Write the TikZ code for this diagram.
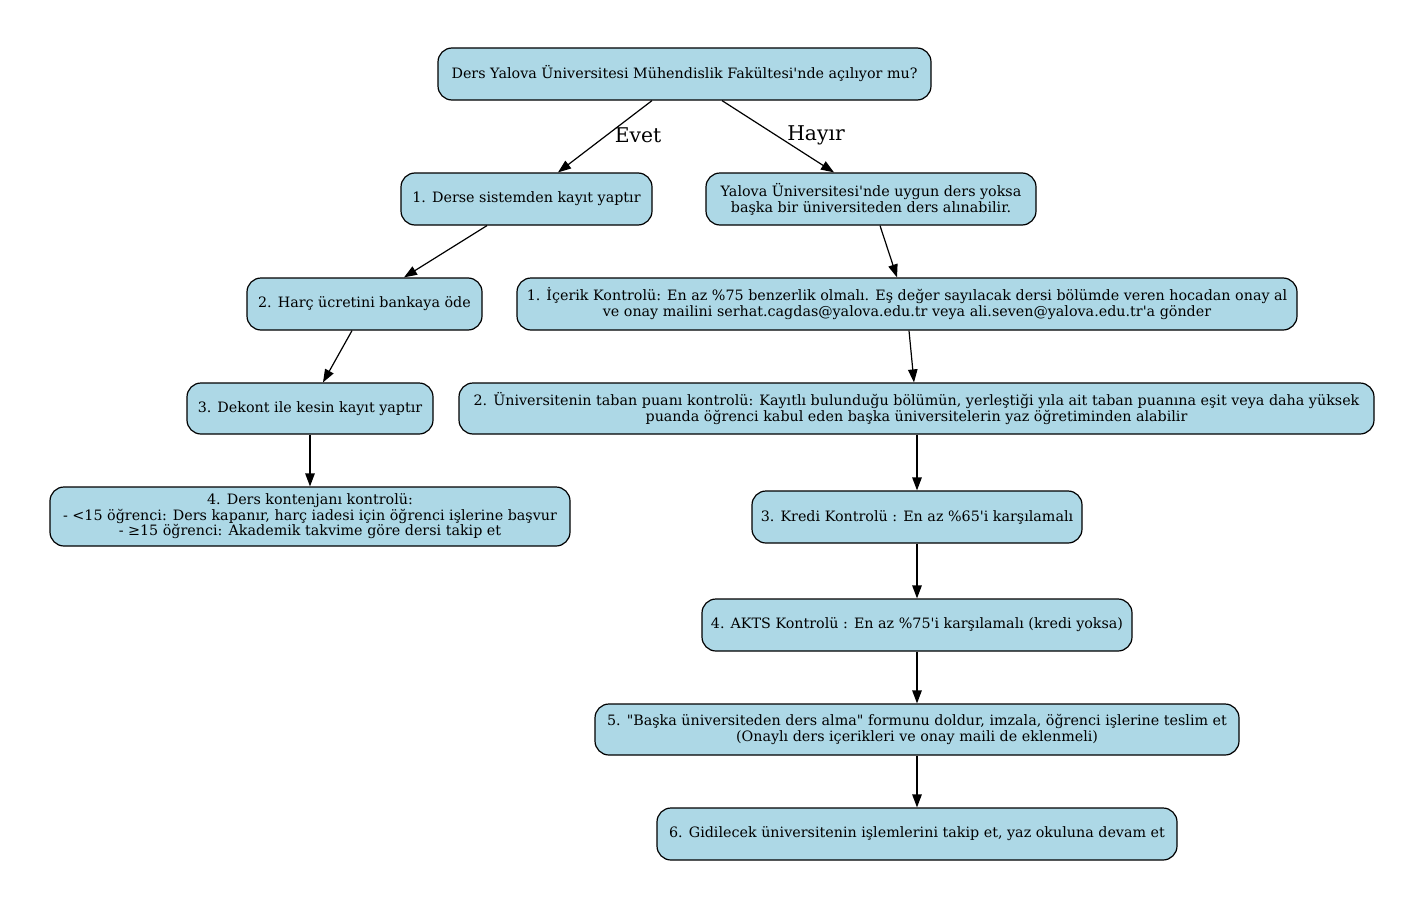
\documentclass[tikz,border=0pt]{standalone}
\usepackage{fontspec}
\setmainfont{DejaVu Serif}[Ligatures=TeXOff]
\usetikzlibrary{arrows.meta}
\definecolor{gvblue}{RGB}{173,216,230}
\begin{document}
\begin{tikzpicture}[x=1pt,y=-1pt,
  box/.style={draw=black,line width=1.2pt,fill=gvblue,rounded corners=14pt,
    inner sep=0pt,minimum height=52pt,align=center,
    font=\fontsize{14.3}{16}\selectfont},
  conn/.style={draw=black,line width=1.2pt,-{Triangle[length=13pt,width=9.5pt]}},
  elab/.style={font=\fontsize{20.3}{22}\selectfont,inner sep=0pt}]
\useasboundingbox (0,0) rectangle (1405,899);
\node[box,minimum width=493pt] (top) at (684.5,74) {Ders Yalova Üniversitesi Mühendislik Fakültesi'nde açılıyor mu?};
\node[box,minimum width=251pt] (n1) at (526.5,199) {1. Derse sistemden kayıt yaptır};
\node[box,minimum width=330pt] (nr) at (871,199) {Yalova Üniversitesi'nde uygun ders yoksa\\başka bir üniversiteden ders alınabilir.};
\node[box,minimum width=235pt] (n2) at (364.5,304) {2. Harç ücretini bankaya öde};
\node[box,minimum width=780pt] (r1) at (907,304) {1. İçerik Kontrolü: En az \%75 benzerlik olmalı. Eş değer sayılacak dersi bölümde veren hocadan onay al\\ve onay mailini serhat.cagdas@yalova.edu.tr veya ali.seven@yalova.edu.tr'a gönder};
\node[box,minimum width=246pt,minimum height=51pt] (n3) at (310,408.5) {3. Dekont ile kesin kayıt yaptır};
\node[box,minimum width=915pt,minimum height=51pt] (r2) at (916.5,408.5) {2. Üniversitenin taban puanı kontrolü: Kayıtlı bulunduğu bölümün, yerleştiği yıla ait taban puanına eşit veya daha yüksek\\puanda öğrenci kabul eden başka üniversitelerin yaz öğretiminden alabilir};
\node[box,minimum width=520pt,minimum height=59pt,font=\fontsize{14.3}{15.5}\selectfont] (n4) at (310,516.5) {4. Ders kontenjanı kontrolü:\\- <15 öğrenci: Ders kapanır, harç iadesi için öğrenci işlerine başvur\\- ≥15 öğrenci: Akademik takvime göre dersi takip et};
\node[box,minimum width=330pt] (r3) at (917,517) {3. Kredi Kontrolü : En az \%65'i karşılamalı};
\node[box,minimum width=430pt] (r4) at (917,625) {4. AKTS Kontrolü : En az \%75'i karşılamalı (kredi yoksa)};
\node[box,minimum width=644pt,minimum height=51pt] (r5) at (917,729.5) {5. "Başka üniversiteden ders alma" formunu doldur, imzala, öğrenci işlerine teslim et\\(Onaylı ders içerikleri ve onay maili de eklenmeli)};
\node[box,minimum width=520pt] (r6) at (917,834) {6. Gidilecek üniversitenin işlemlerini takip et, yaz okuluna devam et};
\draw[conn] ([xshift=-32.5pt]top.south) -- ([xshift=31.5pt]n1.north);
\draw[conn] ([xshift=37.5pt]top.south) -- ([xshift=-37pt]nr.north);
\node[elab] (lev) at (638,135.5) {Evet};
\node[elab] (lha) at (816,135) {Hayır};
\draw[conn] ([xshift=-39.5pt]n1.south) -- ([xshift=39.5pt]n2.north);
\draw[conn] ([xshift=-12.5pt]n2.south) -- ([xshift=13pt]n3.north);
\draw[conn] (n3.south) -- (n4.north);
\draw[conn] ([xshift=9pt]nr.south) -- ([xshift=-10pt]r1.north);
\draw[conn] ([xshift=2pt]r1.south) -- ([xshift=-2.5pt]r2.north);
\draw[conn] ([xshift=0.5pt]r2.south) -- (r3.north);
\draw[conn] (r3.south) -- (r4.north);
\draw[conn] (r4.south) -- (r5.north);
\draw[conn] (r5.south) -- (r6.north);
\end{tikzpicture}
\end{document}
